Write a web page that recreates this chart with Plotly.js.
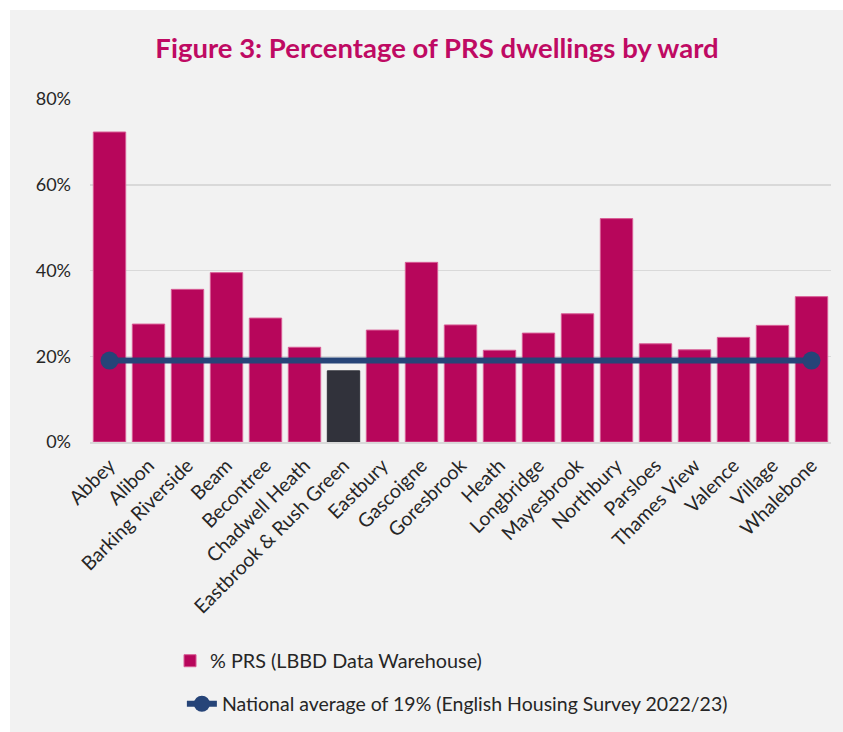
<!DOCTYPE html>
<html>
<head>
<meta charset="utf-8">
<script src="https://cdn.plot.ly/plotly-3.0.1.min.js"></script>
<style>
  html, body { margin: 0; padding: 0; background: #ffffff; }
  #chart { position: absolute; left: 10px; top: 10px; width: 833px; height: 722px; }
</style>
</head>
<body>
<div id="chart"></div>
<script>
const wards = ['Abbey', 'Alibon', 'Barking Riverside', 'Beam', 'Becontree', 'Chadwell Heath',
  'Eastbrook & Rush Green', 'Eastbury', 'Gascoigne', 'Goresbrook', 'Heath', 'Longbridge',
  'Mayesbrook', 'Northbury', 'Parsloes', 'Thames View', 'Valence', 'Village', 'Whalebone'];
const prsPercent = [72.3, 27.5, 35.6, 39.5, 28.9, 22.1, 16.6, 26.1, 41.9, 27.3, 21.4, 25.4,
  29.9, 52.1, 22.9, 21.5, 24.4, 27.2, 33.9];
const highlightWard = 'Eastbrook & Rush Green';
const nationalWards = ['Abbey', 'Whalebone'];
const nationalAverage = [19, 19];
const yTickVals = [0, 20, 40, 60, 80];
const yTickText = ['0%', '20%', '40%', '60%', '80%'];

const pink = '#b7065b';
const dark = '#31323b';
const navy = '#264478';
const FONT = 'Lato, "Open Sans", sans-serif';

const barColors = wards.map(w => w === highlightWard ? dark : pink);
const barLines = wards.map(w => w === highlightWard ? dark : '#d85c95');

const traces = [
  {
    type: 'bar',
    x: wards,
    y: prsPercent,
    name: '% PRS (LBBD Data Warehouse)',
    marker: { color: barColors, line: { color: barLines, width: 1 } },
    legend: 'legend',
    hoverinfo: 'x+y'
  },
  {
    type: 'scatter',
    mode: 'lines+markers',
    x: nationalWards,
    y: nationalAverage,
    name: 'National average of 19% (English Housing Survey 2022/23)',
    line: { color: navy, width: 6 },
    marker: { color: navy, size: 18 },
    legend: 'legend2'
  }
];

const layout = {
  width: 833,
  height: 722,
  paper_bgcolor: '#f2f2f2',
  plot_bgcolor: '#f2f2f2',
  margin: { l: 80, r: 12, t: 89, b: 290, autoexpand: false },
  font: { family: FONT, size: 17, color: '#262626' },
  title: {
    text: '<b>Figure 3: Percentage of PRS dwellings by ward</b>',
    font: { family: FONT, size: 27.5, color: '#bf0a63' },
    xref: 'container', x: 0.5126, xanchor: 'center',
    yref: 'container', y: 0.947, yanchor: 'middle'
  },
  bargap: 0.17,
  xaxis: {
    type: 'category',
    range: [-0.5, wards.length - 0.5],
    tickangle: -45,
    tickfont: { family: FONT, size: 19.5, color: '#262626' },
    showgrid: false,
    showline: true,
    linecolor: '#d9d9d9',
    linewidth: 1.5,
    ticks: '',
    ticklabelstandoff: 3,
    automargin: false
  },
  yaxis: {
    range: [0, 80],
    tickvals: yTickVals,
    ticktext: yTickText,
    tickfont: { family: FONT, size: 18, color: '#262626' },
    showgrid: true,
    gridcolor: '#d9d9d9',
    gridwidth: 1.5,
    zeroline: false,
    ticks: '',
    ticklabelstandoff: 18,
    automargin: false
  },
  legend: {
    xref: 'paper', yref: 'paper',
    x: 0.108, y: -0.638, xanchor: 'left', yanchor: 'middle',
    bgcolor: 'rgba(0,0,0,0)',
    font: { family: FONT, size: 19.8, color: '#262626' }
  },
  legend2: {
    xref: 'paper', yref: 'paper',
    x: 0.124, y: -0.764, xanchor: 'left', yanchor: 'middle',
    bgcolor: 'rgba(0,0,0,0)',
    font: { family: FONT, size: 19.5, color: '#262626' }
  },
  showlegend: true
};

Plotly.newPlot('chart', traces, layout, { displayModeBar: false, staticPlot: true });
</script>
</body>
</html>
